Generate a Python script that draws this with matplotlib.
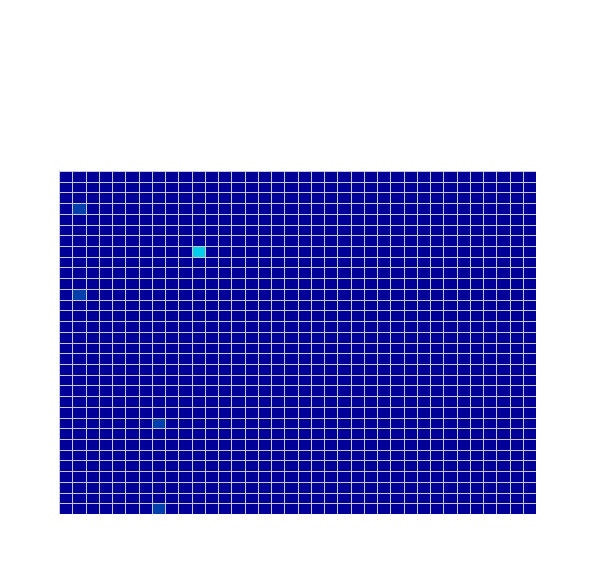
import numpy as np
import matplotlib
matplotlib.use("Agg")
import matplotlib.pyplot as plt
from matplotlib.colors import LinearSegmentedColormap

n_rows = 32
n_cols = 36
# (row from top, column from left, value); all other cells are 0
hot_rows = [3, 7, 11, 23, 31]
hot_cols = [1, 10, 1, 7, 7]
hot_vals = [1.0, 2.5, 1.0, 1.0, 1.0]
z_min, z_max = 0.0, 8.0

z = np.zeros((n_rows, n_cols))
for r, c, v in zip(hot_rows, hot_cols, hot_vals):
    z[r, c] = v

jet_stops = [(0.0, (0/255, 0/255, 152/255)),
             (0.125, (0/255, 64/255, 172/255)),
             (0.375, (5/255, 255/255, 255/255)),
             (0.625, (255/255, 255/255, 0/255)),
             (0.875, (250/255, 0/255, 0/255)),
             (1.0, (128/255, 0/255, 0/255))]
cmap = LinearSegmentedColormap.from_list("plotly_jet", jet_stops)

fig = plt.figure(figsize=(5.96, 5.72), dpi=100)
ax = fig.add_axes([59/596, 1 - 514/572, (536 - 59)/596, (514 - 171)/572])
gap = "#c8c8d2"
ax.set_facecolor(gap)
ax.pcolormesh(np.arange(n_cols + 1), np.arange(n_rows + 1), z, cmap=cmap,
              vmin=z_min, vmax=z_max, edgecolors=gap, linewidth=0.6)
ax.set_xlim(0, n_cols)
ax.set_ylim(n_rows, 0)
ax.axis("off")
fig.savefig("out.png", dpi=100)
